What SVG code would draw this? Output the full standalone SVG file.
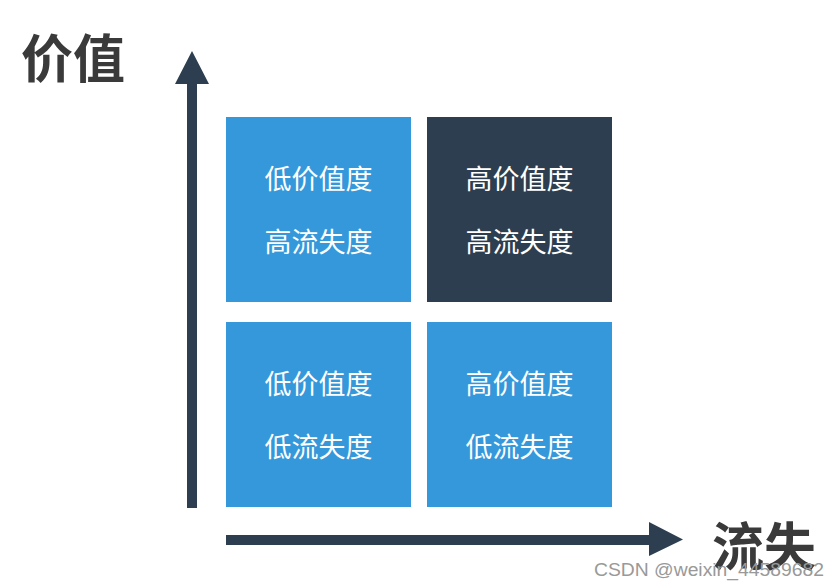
<svg xmlns="http://www.w3.org/2000/svg" width="839" height="588" viewBox="0 0 839 588">
<style>
.b{fill:#3498db}.d{fill:#2c3e50}
.t{font-family:"Noto Sans CJK SC",sans-serif;font-size:27px;fill:#fff;text-anchor:middle}
.h{font-family:"Noto Sans CJK SC",sans-serif;font-size:52px;font-weight:bold;fill:#3a3a3a}
.a{fill:#2c3e50}
</style>
<rect width="839" height="588" fill="#fff"/>
<text class="h" x="21" y="78">价值</text>
<text class="h" x="712" y="566">流失</text>
<g id="connectors">
<path class="a" d="M187,508V84H175L192,51L209,84H197V508Z"/>
<path class="a" d="M226,535H649V522L683,539.5L649,556V545H226Z"/>
</g>
<g id="n1"><rect class="b" x="226" y="117" width="185" height="185"/><text class="t" x="318.5" y="189">低价值度</text><text class="t" x="318.5" y="252">高流失度</text></g>
<g id="n2"><rect class="d" x="427" y="117" width="185" height="185"/><text class="t" x="519.5" y="189">高价值度</text><text class="t" x="519.5" y="252">高流失度</text></g>
<g id="n3"><rect class="b" x="226" y="322" width="185" height="185"/><text class="t" x="318.5" y="394">低价值度</text><text class="t" x="318.5" y="457">低流失度</text></g>
<g id="n4"><rect class="b" x="427" y="322" width="185" height="185"/><text class="t" x="519.5" y="394">高价值度</text><text class="t" x="519.5" y="457">低流失度</text></g>
<text x="594" y="576" font-family="Liberation Sans,sans-serif" font-size="17.5" textLength="230" lengthAdjust="spacingAndGlyphs" fill="#999">CSDN @weixin_44589682</text>
</svg>
